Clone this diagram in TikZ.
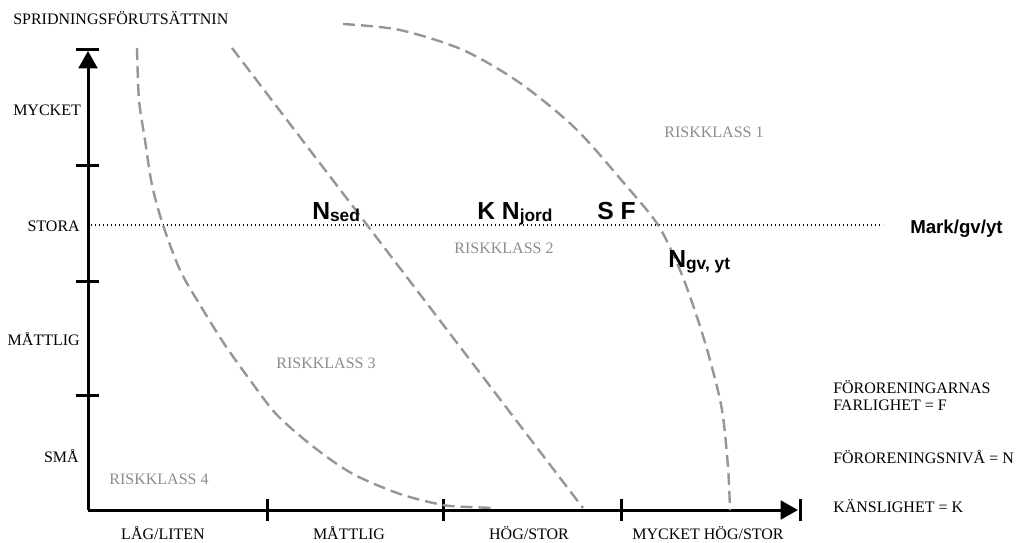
\documentclass[tikz,border=0pt]{standalone}
\usepackage{fontspec}
\setmainfont{Liberation Serif}
\newfontfamily\arialf{Liberation Sans}
\usetikzlibrary{arrows.meta}
\definecolor{curvegray}{RGB}{150,150,150}
\definecolor{labelgray}{RGB}{140,140,140}
\tikzset{
  axisline/.style={line width=2.25pt},
  tickline/.style={line width=2.25pt},
  curveline/.style={draw=curvegray, line width=1.8pt, dash pattern=on 9pt off 4.5pt},
  lbl/.style={font=\fontsize{12}{13}\selectfont, inner sep=0pt},
  risk/.style={lbl, text=labelgray, anchor=base},
  bigsym/.style={font=\arialf\bfseries\fontsize{18.5}{20}\selectfont, inner sep=0pt, anchor=base west},
  dotline/.style={line width=1.1pt, dash pattern=on 1.1pt off 1.9pt},
}
\newcommand\subtxt[1]{\raisebox{-2pt}{\fontsize{13}{14}\selectfont #1}}
\begin{document}
\begin{tikzpicture}[x=0.75pt,y=-0.75pt]
\useasboundingbox (0,0) rectangle (1016,542);
% axes
\coordinate (O) at (88,510);
\coordinate (Ytip) at (88,51);
\coordinate (Xtip) at (798,510);
\draw[axisline,-{Triangle[length=13pt,width=14pt]}] (O) -- (Ytip);
\draw[axisline,-{Triangle[length=13pt,width=14pt]}] (O) -- (Xtip);
\draw[tickline] (76,50) -- (99,50);
\draw[tickline] (800,499) -- (800,521);
\foreach \yy in {165,281,395} \draw[tickline] (76,\yy) -- (99,\yy);
\foreach \xx in {267,443,621} \draw[tickline] (\xx,499) -- (\xx,521);
% dotted line
\coordinate (D1) at (91,225);
\coordinate (D2) at (883,225);
\draw[dotline] (D1) -- (D2);
% curves
\draw[curveline] plot[smooth] coordinates {(137,48) (139,100) (145,140) (152,185) (163,225) (180,270) (200,305) (225,345) (250,380) (277,415) (315,448) (353,474) (400,494) (443,505) (470,507) (495,508)};
\coordinate (B1) at (232,48);
\coordinate (B2) at (583,508);
\draw[curveline] (B1) -- (B2);
\draw[curveline] plot[smooth] coordinates {(343,24) (400,30) (463,50) (520,83) (575,128) (623,182) (658,225) (680,270) (697,317) (710,360) (722,410) (728,467) (730,510)};
% axis labels
\node[lbl,anchor=base west] (title) at (13,25) {SPRIDNINGSFÖRUTSÄTTNIN};
\node[lbl,anchor=base west] (ymy) at (13,115) {MYCKET};
\node[lbl,anchor=base east] (yst) at (80,231) {STORA};
\node[lbl,anchor=base east] (ymat) at (80,345) {MÅTTLIG};
\node[lbl,anchor=base east] (ysma) at (79,462) {SMÅ};
\node[lbl,anchor=base] (xl) at (163,539) {LÅG/LITEN};
\node[lbl,anchor=base] (xm) at (349,539) {MÅTTLIG};
\node[lbl,anchor=base] (xh) at (529,539) {HÖG/STOR};
\node[lbl,anchor=base] (xmh) at (708,539) {MYCKET HÖG/STOR};
% legend
\node[lbl,anchor=base west] (f1) at (833,393) {FÖRORENINGARNAS};
\node[lbl,anchor=base west] (f2) at (833,410) {FARLIGHET = F};
\node[lbl,anchor=base west] (n1) at (833,463) {FÖRORENINGSNIVÅ = N};
\node[lbl,anchor=base west] (k1) at (833,512) {KÄNSLIGHET = K};
% risk classes
\node[risk] (r1) at (714,137) {RISKKLASS 1};
\node[risk] (r2) at (504,253) {RISKKLASS 2};
\node[risk] (r3) at (326,368) {RISKKLASS 3};
\node[risk] (r4) at (159,484) {RISKKLASS 4};
% symbols
\node[bigsym] (nsed) at (312,219) {N\subtxt{sed}};
\node[bigsym] (knj) at (477,219) {K N\subtxt{jord}};
\node[bigsym] (sf) at (597,219) {S F};
\node[bigsym] (ngv) at (668,267) {N\subtxt{gv, yt}};
\node[inner sep=0pt,anchor=base west,font=\arialf\bfseries\fontsize{14}{15}\selectfont] (mark) at (910,233) {Mark/gv/yt};
\end{tikzpicture}
\end{document}
